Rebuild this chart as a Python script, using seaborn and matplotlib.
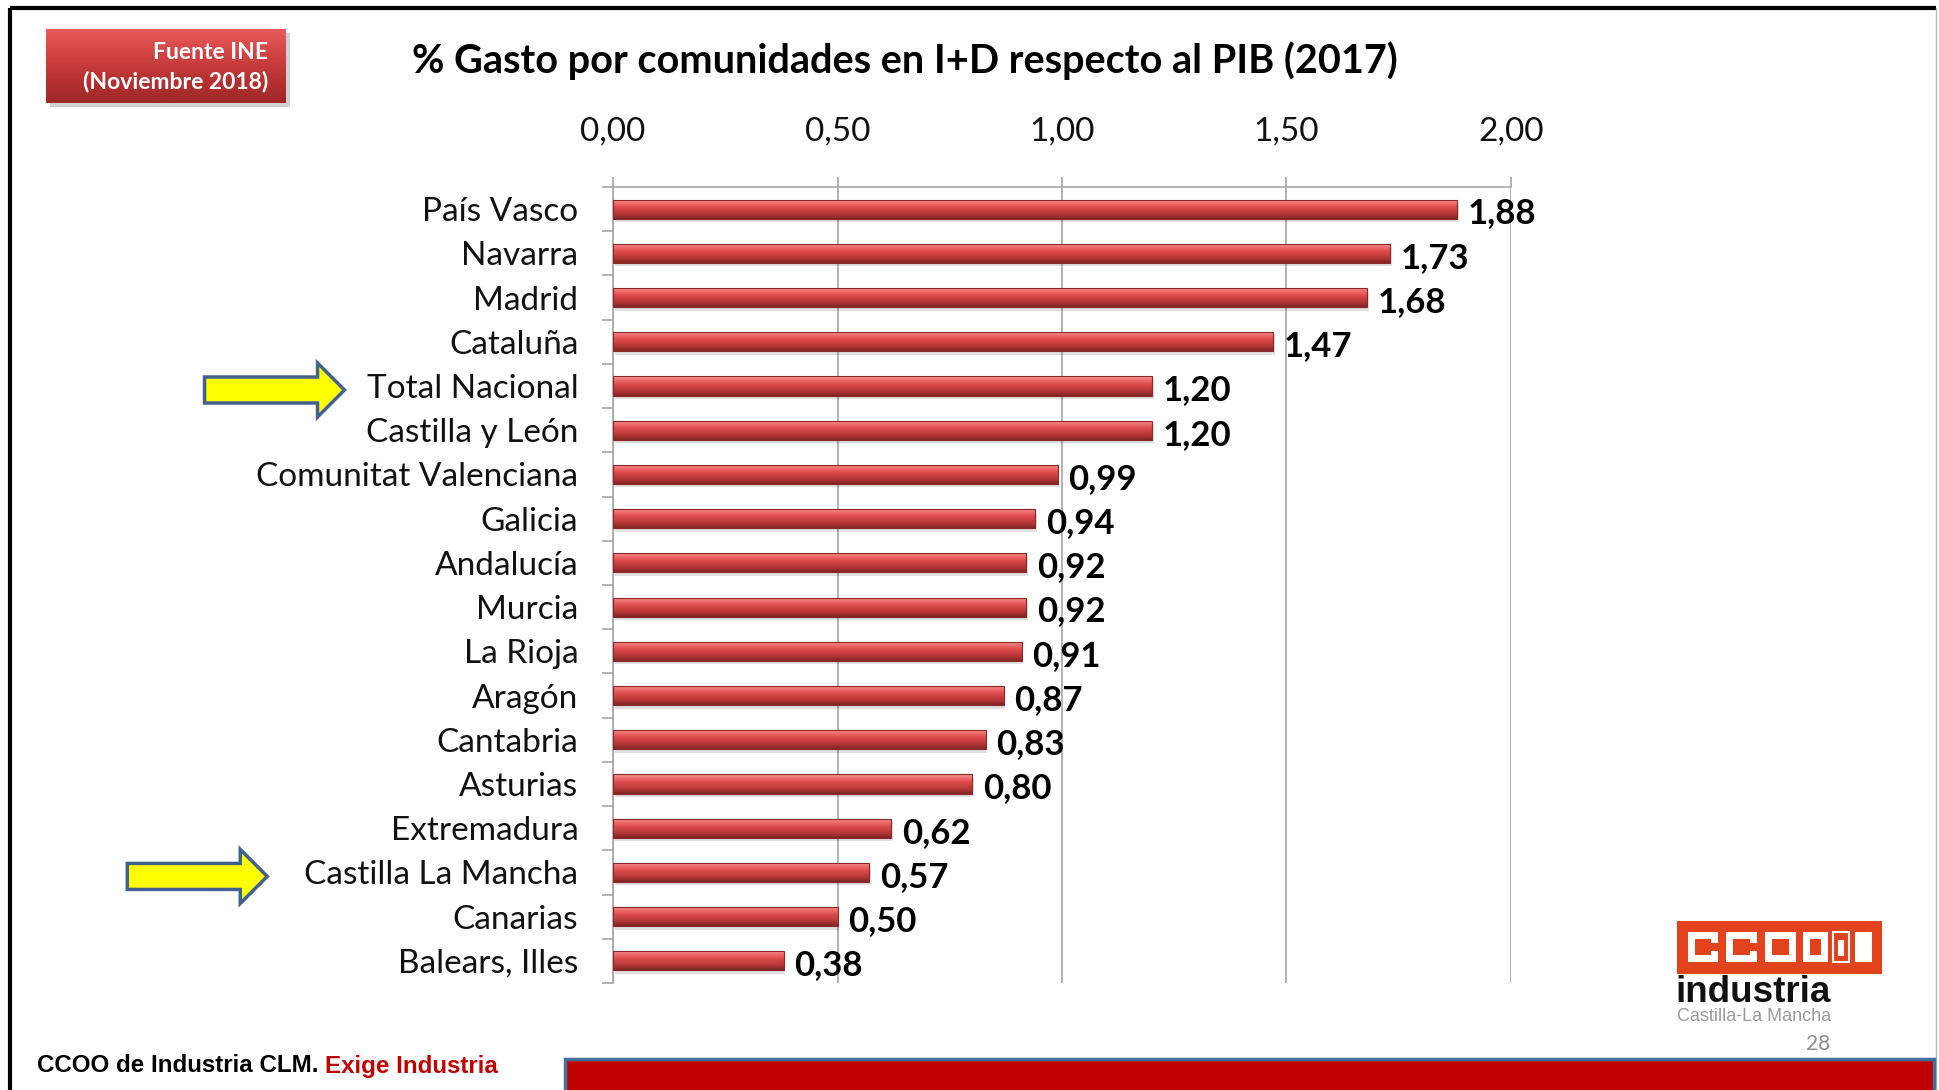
import numpy as np
import pandas as pd
import matplotlib
matplotlib.use("Agg")
import matplotlib.pyplot as plt
import seaborn as sns
from matplotlib.patches import Rectangle, Polygon
from matplotlib.colors import LinearSegmentedColormap

# ---------------- data ----------------
regions = ["País Vasco", "Navarra", "Madrid", "Cataluña", "Total Nacional",
           "Castilla y León", "Comunitat Valenciana", "Galicia", "Andalucía",
           "Murcia", "La Rioja", "Aragón", "Cantabria", "Asturias",
           "Extremadura", "Castilla La Mancha", "Canarias", "Balears, Illes"]
values = [1.88, 1.73, 1.68, 1.47, 1.20, 1.20, 0.99, 0.94, 0.92, 0.92,
          0.91, 0.87, 0.83, 0.80, 0.62, 0.57, 0.50, 0.38]
xticks = [0.0, 0.5, 1.0, 1.5, 2.0]
xtick_labels = ["0,00", "0,50", "1,00", "1,50", "2,00"]
highlighted = ["Total Nacional", "Castilla La Mancha"]
title = "% Gasto por comunidades en I+D respecto al PIB (2017)"
source_lines = ["Fuente INE", "(Noviembre 2018)"]
footer_black = "CCOO de Industria CLM. "
footer_red = "Exige Industria"
page_number = "28"

# ---------------- style ----------------
sns.set_theme(style="white")
plt.rcParams["font.family"] = ["Lato", "DejaVu Sans"]

W, H = 1939, 1090
fig = plt.figure(figsize=(W / 100, H / 100), dpi=100)
fig.patch.set_facecolor("white")

# full-figure overlay in pixel coordinates (y downward)
bg = fig.add_axes([0, 0, 1, 1], zorder=0)
bg.set_xlim(0, W)
bg.set_ylim(H, 0)
bg.axis("off")

# slide frame
bg.plot([10, 10], [H + 5, 8], color="black", lw=3, solid_capstyle="butt")
bg.plot([10, W - 3], [8, 8], color="black", lw=3, solid_capstyle="butt")
bg.plot([W - 3, W - 3], [8, H], color="#BBBBBB", lw=1)

# ---------------- main chart ----------------
ax = fig.add_axes([613 / W, 1 - 983 / H, (1511 - 613) / W, (983 - 187) / H], zorder=2)
df = pd.DataFrame({"region": regions, "value": values})
sns.barplot(data=df, y="region", x="value", orient="h", color="#D04545",
            width=0.43, saturation=1, ax=ax, zorder=3)

cmap = LinearSegmentedColormap.from_list(
    "bar", ["#F59A9A", "#EE6E6E", "#DF4D4D", "#C93F3F", "#AC3333", "#7E2525"])
grad = np.linspace(0, 1, 128).reshape(-1, 1)
for p in list(ax.patches):
    x0, y0 = p.get_x(), p.get_y()
    w, h = p.get_width(), p.get_height()
    # soft shadow
    ax.add_patch(Rectangle((x0 + 0.004, y0 + 0.08), w, h, facecolor="#000000",
                           alpha=0.12, edgecolor="none", zorder=2))
    im = ax.imshow(grad, cmap=cmap, aspect="auto", origin="upper",
                   extent=[x0, x0 + w, y0 + h, y0], zorder=3.5,
                   interpolation="bilinear")
    im.set_clip_path(p)
    p.set_facecolor("none")
    p.set_edgecolor("#8A2828")
    p.set_linewidth(0.8)
    p.set_zorder(4)

for i, v in enumerate(values):
    ax.text(v + 0.024, i + 0.1, f"{v:.2f}".replace(".", ","), fontsize=25,
            fontweight="bold", ha="left", va="center", color="black", zorder=5)

ax.set_xlim(0, 2.0)
ax.set_ylim(len(regions) - 0.5, -0.5)
ax.set_xlabel("")
ax.set_ylabel("")
ax.xaxis.tick_top()
ax.set_xticks(xticks, xtick_labels)
ax.tick_params(axis="x", which="major", top=True, bottom=False, length=7,
               width=1.2, color="#A6A6A6", pad=22, labelsize=24,
               labelcolor="#111111")
ax.tick_params(axis="y", which="major", left=False, length=0, pad=25,
               labelsize=24, labelcolor="#111111")
ax.set_yticks(np.arange(-0.5, len(regions)), minor=True)
ax.tick_params(axis="y", which="minor", left=True, length=8, width=1.2,
               color="#A6A6A6")
ax.grid(axis="x", color="#A6A6A6", linewidth=1.2)
ax.grid(axis="y", visible=False)
ax.set_axisbelow(True)
for s in ["right", "bottom"]:
    ax.spines[s].set_visible(False)
for s in ["top", "left"]:
    ax.spines[s].set_visible(True)
    ax.spines[s].set_color("#A6A6A6")
    ax.spines[s].set_linewidth(1.2)
ax.set_facecolor("none")

# ---------------- title ----------------
fig.text(905 / W, 1 - 61 / H, title, ha="center", va="center",
         fontsize=28.5, fontweight="bold", color="black")

# ---------------- source box ----------------
bg.add_patch(Rectangle((50, 33), 240, 74, facecolor="#000000", alpha=0.18,
                       edgecolor="none", zorder=1))
src = fig.add_axes([46 / W, 1 - 103 / H, 240 / W, 74 / H], zorder=3)
src_cmap = LinearSegmentedColormap.from_list("src", ["#E85A5A", "#D24444", "#B83232", "#A02828"])
src.imshow(np.linspace(0, 1, 64).reshape(-1, 1), cmap=src_cmap, aspect="auto",
           extent=[0, 1, 0, 1], origin="upper")
src.set_xlim(0, 1)
src.set_ylim(0, 1)
src.axis("off")
src.text(0.925, 0.68, source_lines[0], ha="right", va="center", color="white",
         fontsize=16.5, fontweight="bold")
src.text(0.925, 0.29, source_lines[1], ha="right", va="center", color="white",
         fontsize=16.5, fontweight="bold")

# ---------------- yellow arrows pointing to highlighted labels ----------------
arrow_gaps = {"Total Nacional": 22, "Castilla La Mancha": 37}
fig.canvas.draw()
renderer = fig.canvas.get_renderer()
for lbl in ax.get_yticklabels():
    if lbl.get_text() in highlighted:
        bb = lbl.get_window_extent(renderer)
        tip_x = bb.x0 - arrow_gaps[lbl.get_text()]
        cy = H - (bb.y0 + bb.y1) / 2 + 1
        length, head_len, shaft_h, head_h = 140, 27, 13, 27
        pts = [(tip_x - length, cy - shaft_h), (tip_x - head_len, cy - shaft_h),
               (tip_x - head_len, cy - head_h), (tip_x, cy),
               (tip_x - head_len, cy + head_h), (tip_x - head_len, cy + shaft_h),
               (tip_x - length, cy + shaft_h)]
        bg.add_patch(Polygon(pts, closed=True, facecolor="#FFFF00",
                             edgecolor="#41618F", linewidth=2.5, zorder=3))

# ---------------- footer ----------------
t1 = bg.text(37, 1066, footer_black, ha="left", va="center", fontsize=17.4,
             fontweight="bold", color="black", family="Liberation Sans")
bg.annotate(footer_red, xy=(1, 0.5), xycoords=t1, ha="left", va="center",
            fontsize=17.4, fontweight="bold", color="#C00000", family="Liberation Sans")
bg.add_patch(Rectangle((565, 1059), W - 5 - 565, 40, facecolor="#C00000",
                       edgecolor="#41719C", linewidth=2.5, zorder=2))
bg.text(1818, 1044, page_number, ha="center", va="center", fontsize=15,
        color="#8C8C8C")

# ---------------- logo ----------------
bg.add_patch(Rectangle((1677, 921), 205, 53, facecolor="#E2431D", edgecolor="none", zorder=2))
stroke = 7
def block_letter(x0, x1, y0, y1, open_right):
    bg.add_patch(Rectangle((x0, y0), x1 - x0, y1 - y0, facecolor="white",
                           edgecolor="none", zorder=3))
    bg.add_patch(Rectangle((x0 + stroke, y0 + stroke), x1 - x0 - 2 * stroke,
                           y1 - y0 - 2 * stroke, facecolor="#E2431D",
                           edgecolor="none", zorder=4))
    if open_right:
        bg.add_patch(Rectangle((x1 - stroke - 1, y0 + stroke + 4), stroke + 2,
                               y1 - y0 - 2 * stroke - 8, facecolor="#E2431D",
                               edgecolor="none", zorder=4))
block_letter(1688, 1718, 932, 962, True)
block_letter(1726, 1757, 932, 962, True)
block_letter(1765, 1796, 932, 962, False)
block_letter(1803, 1828, 932, 962, False)
bg.add_patch(Rectangle((1833, 932), 16, 30, facecolor="none", edgecolor="white",
                       linewidth=1.5, zorder=3))
bg.add_patch(Rectangle((1838, 940), 6, 16, facecolor="white", edgecolor="none", zorder=3))
bg.add_patch(Rectangle((1855, 932), 17, 30, facecolor="white", edgecolor="none", zorder=3))
bg.text(1675, 1002, "industria", ha="left", va="baseline", fontsize=26.5,
        fontweight="bold", color="#111111", family="Liberation Sans")
bg.text(1677, 1021, "Castilla-La Mancha", ha="left", va="baseline", fontsize=13,
        color="#9A9A9A", family="Liberation Sans")

fig.savefig("out.png", dpi=100, facecolor="white")
